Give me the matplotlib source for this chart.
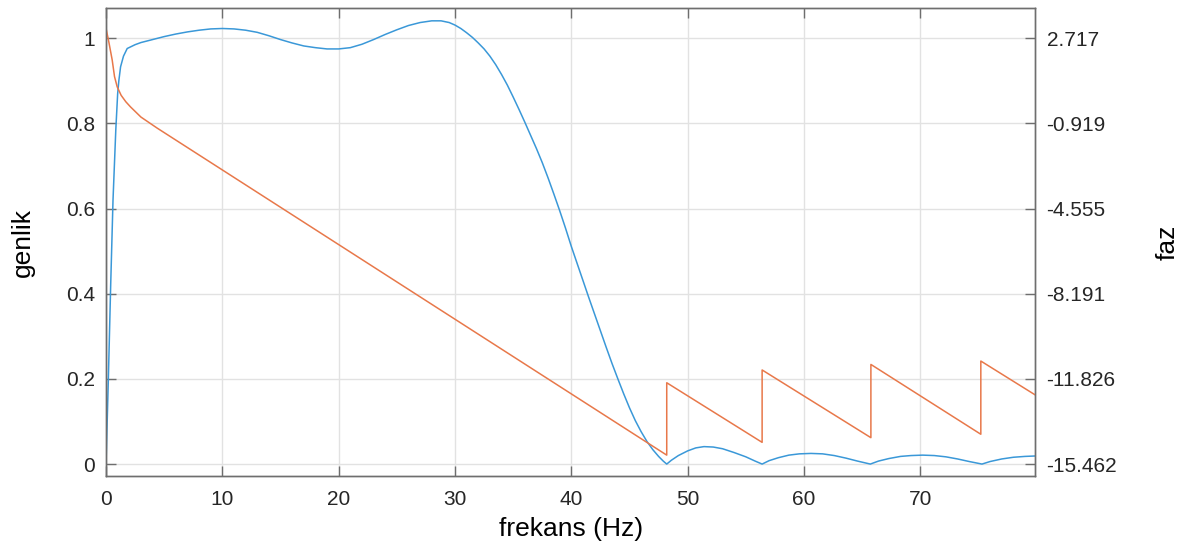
import numpy as np
import matplotlib.pyplot as plt

plt.rcParams['font.family'] = ['Liberation Sans', 'DejaVu Sans']

# genlik (magnitude) vs frequency
freq_mag = [0, 0.2, 0.4, 0.6, 0.84, 1.0, 1.1, 1.25, 1.5, 1.82, 2.5, 3.0, 4.0, 5.0,
            6.0, 7.0, 8.0, 9.0, 10.0, 11.0, 12.0, 13.0, 14.0, 15.0, 16.0, 17.0,
            18.0, 19.0, 20.0, 21.0, 22.0, 23.0, 24.0, 25.0, 26.0, 27.0, 28.0,
            28.8, 29.5, 30.0, 30.5, 31.0, 31.5, 32.0, 32.5, 33.0, 33.5, 34.0,
            34.5, 35.0, 35.5, 36.0, 36.5, 37.0, 37.5, 38.0, 38.5, 39.0, 39.5,
            40.0, 40.5, 41.0, 41.5, 42.0, 42.5, 43.0, 43.5, 44.0, 44.5, 45.0,
            45.5, 46.0, 46.5, 47.0, 47.5, 47.9, 48.2,
            48.6, 49.2, 50.0, 50.7, 51.4, 52.2, 53.0, 54.0, 55.0, 55.8, 56.4,
            57.0, 57.8, 58.7, 59.6, 60.6, 61.6, 62.6, 63.6, 64.6, 65.7,
            66.4, 67.3, 68.3, 69.2, 70.2, 71.2, 72.2, 73.2, 74.2, 75.3,
            76.0, 77.0, 78.0, 79.0, 79.9]
genlik = [0, 0.2, 0.42, 0.62, 0.785, 0.87, 0.90, 0.933, 0.958, 0.976, 0.985, 0.99,
          0.997, 1.004, 1.010, 1.015, 1.019, 1.022, 1.023, 1.022, 1.019, 1.014,
          1.006, 0.997, 0.989, 0.982, 0.978, 0.975, 0.975, 0.978, 0.986, 0.997,
          1.009, 1.020, 1.030, 1.037, 1.041, 1.041, 1.037, 1.031, 1.023, 1.013,
          1.002, 0.989, 0.975, 0.958, 0.938, 0.915, 0.890, 0.862, 0.833, 0.803,
          0.772, 0.741, 0.708, 0.672, 0.634, 0.595, 0.554, 0.511, 0.471, 0.431,
          0.391, 0.352, 0.313, 0.274, 0.236, 0.200, 0.165, 0.132, 0.102, 0.076,
          0.053, 0.034, 0.018, 0.007, 0.0,
          0.009, 0.020, 0.031, 0.038, 0.041, 0.040, 0.036, 0.027, 0.017, 0.007, 0.0,
          0.008, 0.015, 0.021, 0.024, 0.025, 0.024, 0.020, 0.014, 0.007, 0.0,
          0.007, 0.013, 0.018, 0.020, 0.021, 0.020, 0.017, 0.012, 0.006, 0.0,
          0.006, 0.012, 0.016, 0.018, 0.019]

# faz (phase, rad) vs frequency; repeated frequencies are the pi jumps
freq_faz = [0, 0.25, 0.53, 0.73, 0.96, 1.3, 1.7, 2.1, 3.0, 4.4, 48.2, 48.2,
            56.4, 56.4, 65.75, 65.75, 75.2, 75.2, 79.9]
faz = [3.1416, 2.535, 1.790, 1.081, 0.645, 0.281, 0.008, -0.210, -0.646, -1.119,
       -15.080, -11.990, -14.535, -11.444, -14.335, -11.208, -14.189, -11.063,
       -12.517]

xticks = [0, 10, 20, 30, 40, 50, 60, 70]
yticks_left = [0, 0.2, 0.4, 0.6, 0.8, 1]
yticks_right = [-15.462, -11.826, -8.191, -4.555, -0.919, 2.717]

text_col = '#262626'
spine_col = '#6e6e6e'

fig = plt.figure(figsize=(11.86, 5.48), dpi=100)
ax = fig.add_axes([0.0894, 0.1314, 0.7837, 0.8535])
ax2 = ax.twinx()

ax.plot(freq_mag, genlik, color='#3a98d8', lw=1.1)
ax2.plot(freq_faz, faz, color='#e8784a', lw=1.1)

ax.set_xlim(0, 79.9)
ax.set_ylim(-0.028, 1.0705)
lo, hi = -15.462, 2.717
scale = (hi - lo)
ax2.set_ylim(lo + scale * -0.028, lo + scale * 1.0705)

ax.set_xticks(xticks)
ax.set_yticks(yticks_left)
ax.set_yticklabels(['0', '0.2', '0.4', '0.6', '0.8', '1'])
ax2.set_yticks(yticks_right)
ax2.set_yticklabels(['%.3f' % v for v in yticks_right])

ax.grid(True, color='#e2e2e2', lw=1.0)
ax.set_axisbelow(True)

ax.tick_params(axis='x', direction='in', top=True, length=7, width=1,
               color=spine_col, labelsize=15, labelcolor=text_col, pad=10)
ax.tick_params(axis='y', direction='in', right=False, length=7, width=1,
               color=spine_col, labelsize=15, labelcolor=text_col, pad=8)
ax2.tick_params(axis='y', direction='in', length=7, width=1,
                color=spine_col, labelsize=15, labelcolor=text_col, pad=8)

for a in (ax, ax2):
    for s in a.spines.values():
        s.set_color(spine_col)
        s.set_linewidth(1.0)

ax.set_xlabel('frekans (Hz)', fontsize=19, color='black', labelpad=6)
ax.set_ylabel('genlik', fontsize=19, color='black', labelpad=22)
ax2.set_ylabel('faz', fontsize=19, color='black', labelpad=28)

fig.savefig('out.png', dpi=100)
